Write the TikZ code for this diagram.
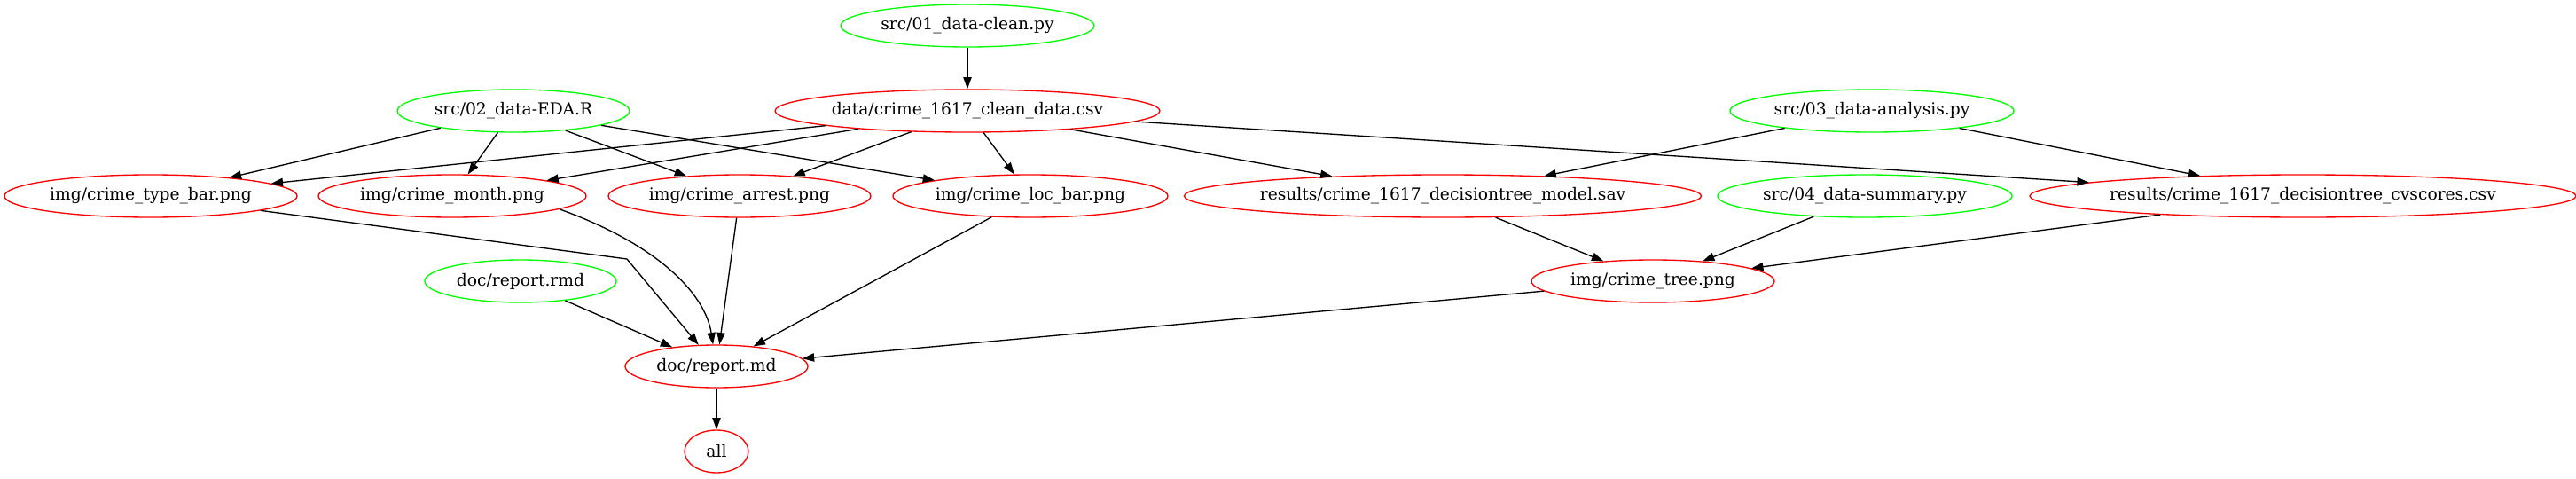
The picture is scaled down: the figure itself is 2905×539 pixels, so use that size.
\documentclass[tikz,border=0pt]{standalone}
\usepackage{fontspec}
\setmainfont{DejaVu Serif}
\usetikzlibrary{shapes.geometric,arrows.meta}
\begin{document}
\begin{tikzpicture}[x=0.75pt,y={(0pt,-0.75pt)},
  every node/.style={font=\fontsize{14pt}{16pt}\selectfont},
  gv/.style={ellipse, draw, line width=1pt, inner sep=0pt, minimum height=36pt, minimum width=#1*1.5pt},
  tgt/.style={gv=#1, draw=red},
  src/.style={gv=#1, draw={rgb,255:red,0;green,255;blue,0}},
  edge/.style={line width=1pt, -{Triangle[length=10pt,width=7pt]}}]
\useasboundingbox (0,0) rectangle (2905,539);
% nodes
\node[src=143] (s01) at (1091,29) {src/01\_data-clean.py};
\node[tgt=217] (data) at (1091,125) {data/crime\_1617\_clean\_data.csv};
\node[src=131] (s02) at (579,125) {src/02\_data-EDA.R};
\node[src=160] (s03) at (2111,125) {src/03\_data-analysis.py};
\node[tgt=165] (tb) at (170,221) {img/crime\_type\_bar.png};
\node[tgt=151] (mo) at (510,221) {img/crime\_month.png};
\node[tgt=148] (ar) at (834,221) {img/crime\_arrest.png};
\node[tgt=155] (lb) at (1162,221) {img/crime\_loc\_bar.png};
\node[tgt=287] (mod) at (1627,221) {results/crime\_1617\_decisiontree\_model.sav};
\node[src=166] (s04) at (2103,221) {src/04\_data-summary.py};
\node[tgt=304] (cv) at (2597,221) {results/crime\_1617\_decisiontree\_cvscores.csv};
\node[src=108] (rmd) at (587,317) {doc/report.rmd};
\node[tgt=137] (tree) at (1864,317) {img/crime\_tree.png};
\node[tgt=103] (md) at (808,413) {doc/report.md};
\node[tgt=36] (all) at (808,509) {all};
\coordinate (bend) at (707,292);
% edges
\draw[edge] (s01) -- (data);
\draw[edge] (s02) -- (tb);
\draw[edge] (s02) -- (mo);
\draw[edge] (s02) -- (ar);
\draw[edge] (s02) -- (lb);
\draw[edge] (data) -- (tb);
\draw[edge] (data) -- (mo);
\draw[edge] (data) -- (ar);
\draw[edge] (data) -- (lb);
\draw[edge] (data) -- (mod);
\draw[edge] (data) -- (cv);
\draw[edge] (s03) -- (mod);
\draw[edge] (s03) -- (cv);
\draw[edge] (mod) -- (tree);
\draw[edge] (s04) -- (tree);
\draw[edge] (cv) -- (tree);
\draw[edge] (tb) -- (bend) -- (md);
\draw[edge] (mo.-7) .. controls (740,275) and (795,330) .. (md);
\draw[edge] (ar) -- (md);
\draw[edge] (lb) -- (md);
\draw[edge] (rmd) -- (md);
\draw[edge] (tree) -- (md);
\draw[edge] (md) -- (all);
\end{tikzpicture}
\end{document}
